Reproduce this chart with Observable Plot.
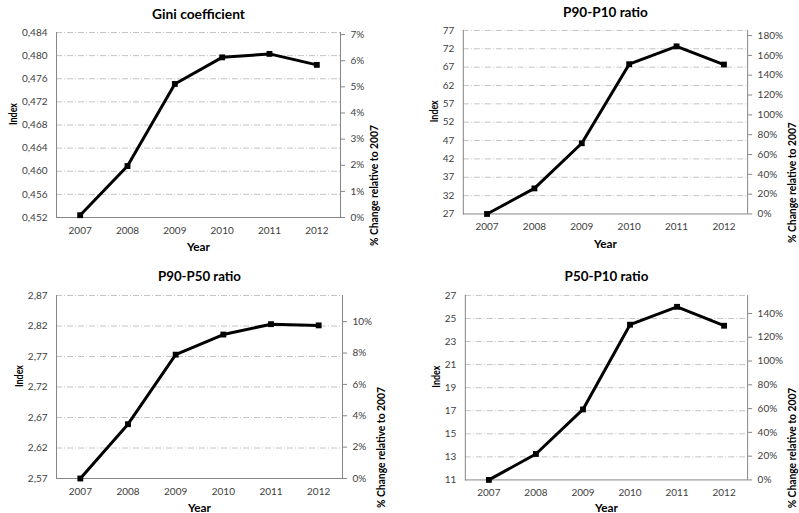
<!DOCTYPE html>
<html><head><meta charset="utf-8">
<script src="https://cdn.jsdelivr.net/npm/d3@7"></script>
<script src="https://cdn.jsdelivr.net/npm/@observablehq/plot@0.6"></script>
<style>
body{margin:0;background:#fff;}
#wrap{position:relative;width:799px;height:513px;overflow:hidden;background:#fff;}
.panel{position:absolute;}
.panel svg{overflow:visible;}
</style></head><body><div id="wrap"></div>
<script>
const years = ["2007","2008","2009","2010","2011","2012"];
const titles = ["Gini coefficient","P90-P10 ratio","P90-P50 ratio","P50-P10 ratio"];
const giniValues   = [0.4524, 0.4609, 0.4751, 0.4797, 0.4803, 0.4784];
const p90p10Values = [27.0, 33.96, 46.26, 67.8, 72.66, 67.7];
const p90p50Values = [2.570, 2.659, 2.773, 2.806, 2.823, 2.821];
const p50p10Values = [11.0, 13.25, 17.11, 24.46, 26.01, 24.37];
const giniTicks   = [0.452,0.456,0.460,0.464,0.468,0.472,0.476,0.480,0.484];
const p90p10Ticks = [27,32,37,42,47,52,57,62,67,72,77];
const p90p50Ticks = [2.57,2.62,2.67,2.72,2.77,2.82,2.87];
const p50p10Ticks = [11,13,15,17,19,21,23,25,27];
const giniPctTicks   = [0,1,2,3,4,5,6,7];
const p90p10PctTicks = [0,20,40,60,80,100,120,140,160,180];
const p90p50PctTicks = [0,2,4,6,8,10];
const p50p10PctTicks = [0,20,40,60,80,100,120,140];
const pctAxisMax = [7.08, 185.2, 11.67, 155.2];
const decimals = [3, 0, 2, 0];
const xLabel = "Year";
const yLabel = "Index";
const y2Label = "% Change relative to 2007";

const seriesList = [giniValues, p90p10Values, p90p50Values, p50p10Values];
const tickList = [giniTicks, p90p10Ticks, p90p50Ticks, p50p10Ticks];
const pctTickList = [giniPctTicks, p90p10PctTicks, p90p50PctTicks, p50p10PctTicks];

const layout = [
  {left:0,   top:0,   h:256, ml:56, mr:60, mt:32, mb:39, titleDy:-18, indexDx:-43, y2Dx:34, yearDy:30, titleW:93},
  {left:400, top:0,   h:256, ml:63, mr:52, mt:30, mb:42, titleDy:-18, indexDx:-29, y2Dx:45, yearDy:30, titleW:85},
  {left:0,   top:256, h:257, ml:56, mr:58, mt:39, mb:35, titleDy:-19, indexDx:-37, y2Dx:39, yearDy:30, titleW:83},
  {left:400, top:256, h:257, ml:65, mr:52, mt:39, mb:33, titleDy:-19, indexDx:-29, y2Dx:45, yearDy:28, titleW:84}
];

const wrap = document.getElementById("wrap");
const font = "Lato, 'Open Sans', sans-serif";
const grid = "#c4c4c4", axisCol = "#868686", txt = "#404040";

function squeeze(svg, cls, width) {
  svg.querySelectorAll(`.${cls} text`).forEach(t => {
    t.setAttribute("textLength", width);
    t.setAttribute("lengthAdjust", "spacingAndGlyphs");
  });
}

seriesList.forEach((vals, k) => {
  const L = layout[k];
  const ticks = tickList[k];
  const ymin = ticks[0], ymax = ticks[ticks.length - 1];
  const rmax = pctAxisMax[k];
  const toY = p => ymin + p / rmax * (ymax - ymin);
  const data = years.map((yr, i) => ({year: yr, value: vals[i]}));
  const fmt = d => d.toFixed(decimals[k]).replace(".", ",");
  const pctPos = pctTickList[k].map(toY);
  const plot = Plot.plot({
    width: 400, height: L.h,
    marginLeft: L.ml, marginRight: L.mr, marginTop: L.mt, marginBottom: L.mb,
    style: {fontFamily: font, fontSize: "10px", color: txt, background: "transparent"},
    x: {type: "point", domain: years, padding: 0.5, round: false, axis: null},
    y: {domain: [ymin, ymax], axis: null},
    marks: [
      Plot.ruleY(ticks.slice(1), {stroke: grid, strokeWidth: 1, strokeDasharray: "6,2,1,2"}),
      Plot.ruleY([ymin], {stroke: axisCol, strokeWidth: 1}),
      Plot.frame({anchor: "left", stroke: axisCol}),
      Plot.frame({anchor: "right", stroke: axisCol}),
      Plot.axisY(ticks, {anchor: "left", label: null, tickSize: 0, tickPadding: 9, tickFormat: fmt, fill: txt}),
      Plot.axisY(pctPos, {anchor: "right", label: null, tickSize: 4, tickPadding: 6, stroke: axisCol, fill: txt,
        tickFormat: d => Math.round((d - ymin) / (ymax - ymin) * rmax) + "%"}),
      Plot.axisX(years, {anchor: "bottom", label: null, tickSize: 0, tickPadding: 9, fill: txt}),
      Plot.line(data, {x: "year", y: "value", stroke: "#000", strokeWidth: 3, strokeLinejoin: "round"}),
      Plot.dot(data, {x: "year", y: "value", symbol: "square", r: 3.3, fill: "#000", stroke: "none"}),
      Plot.text([titles[k]], {className: "ttl", frameAnchor: "top", dy: L.titleDy, lineAnchor: "middle", fontSize: 14, fontWeight: "bold", fill: "#000"}),
      Plot.text([xLabel], {className: "xlab", frameAnchor: "bottom", dy: L.yearDy, lineAnchor: "middle", fontSize: 11.5, fontWeight: "bold", fill: "#000"}),
      Plot.text([yLabel], {className: "ylab", frameAnchor: "left", dx: L.indexDx, rotate: -90, lineAnchor: "middle", fontSize: 11.5, fontWeight: "bold", fill: "#000"}),
      Plot.text([y2Label], {className: "y2lab", frameAnchor: "right", dx: L.y2Dx, rotate: -90, lineAnchor: "middle", fontSize: 11.5, fontWeight: "bold", fill: "#000"})
    ]
  });
  squeeze(plot, "ttl", L.titleW);
  squeeze(plot, "xlab", 23);
  squeeze(plot, "ylab", 22);
  squeeze(plot, "y2lab", 121);
  const div = document.createElement("div");
  div.className = "panel";
  div.style.left = L.left + "px";
  div.style.top = L.top + "px";
  div.appendChild(plot);
  wrap.appendChild(div);
});
</script>
</body></html>
